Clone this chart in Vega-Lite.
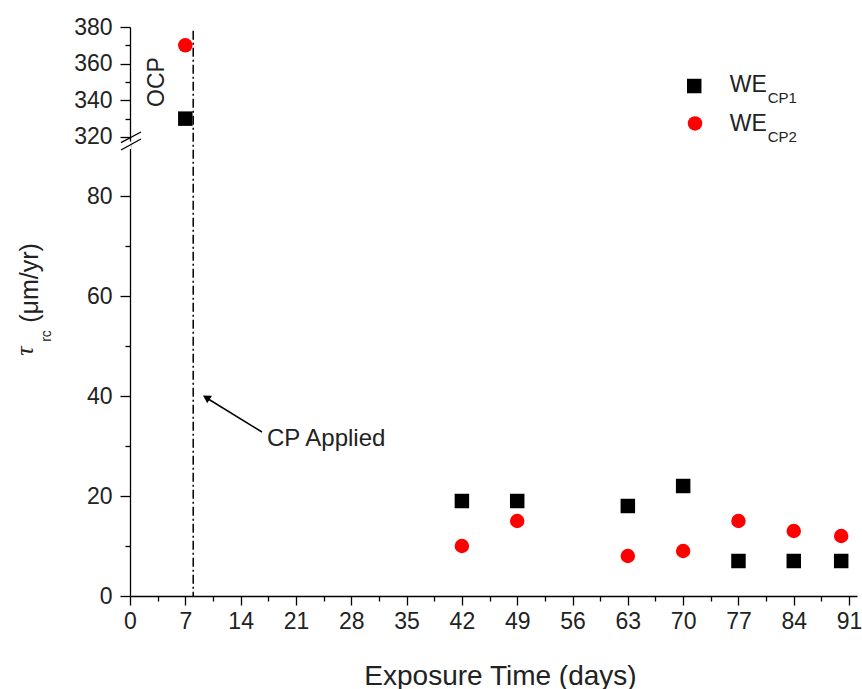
{
  "$schema": "https://vega.github.io/schema/vega-lite/v6.json",
  "autosize": "none",
  "padding": {"left": 130, "top": 27, "right": 5, "bottom": 93},
  "width": 727,
  "height": 569,
  "background": "white",
  "config": {
    "view": {"stroke": null},
    "font": "Liberation Sans",
    "axis": {"grid": false, "domainColor": "#000", "tickColor": "#000", "labelColor": "#222", "titleColor": "#222", "labelFont": "Liberation Sans", "titleFont": "Liberation Sans", "titleFontWeight": "normal", "domainWidth": 1.3, "tickWidth": 1.3}
  },
  "datasets": {
    "pts": [
      {"day": 7, "tau": 330, "series": "WE_CP1"},
      {"day": 42, "tau": 19, "series": "WE_CP1"},
      {"day": 49, "tau": 19, "series": "WE_CP1"},
      {"day": 63, "tau": 18, "series": "WE_CP1"},
      {"day": 70, "tau": 22, "series": "WE_CP1"},
      {"day": 77, "tau": 7, "series": "WE_CP1"},
      {"day": 84, "tau": 7, "series": "WE_CP1"},
      {"day": 90, "tau": 7, "series": "WE_CP1"},
      {"day": 7, "tau": 370, "series": "WE_CP2"},
      {"day": 42, "tau": 10, "series": "WE_CP2"},
      {"day": 49, "tau": 15, "series": "WE_CP2"},
      {"day": 63, "tau": 8, "series": "WE_CP2"},
      {"day": 70, "tau": 9, "series": "WE_CP2"},
      {"day": 77, "tau": 15, "series": "WE_CP2"},
      {"day": 84, "tau": 13, "series": "WE_CP2"},
      {"day": 90, "tau": 12, "series": "WE_CP2"}
    ],
    "one": [{}]
  },
  "layer": [
    {
      "data": {"name": "one"},
      "mark": {"type": "rule", "strokeDash": [9, 3, 2, 3], "strokeWidth": 1.5, "color": "#000"},
      "encoding": {"x": {"datum": 8}, "y": {"datum": 378}, "y2": {"datum": 0}}
    },
    {
      "data": {"name": "pts"},
      "mark": {"type": "point", "filled": true, "opacity": 1, "strokeWidth": 0},
      "encoding": {
        "x": {"field": "day", "type": "quantitative",
          "scale": {"domain": [0, 92], "nice": false, "zero": false},
          "axis": {"title": "Exposure Time (days)", "titleFontSize": 28, "titleX": 370, "titleY": 88, "titleBaseline": "alphabetic",
            "tickCount": 200,
            "values": [0,3.5,7,10.5,14,17.5,21,24.5,28,31.5,35,38.5,42,45.5,49,52.5,56,59.5,63,66.5,70,73.5,77,80.5,84,87.5,91],
            "labelExpr": "datum.value % 7 === 0 ? format(datum.value, 'd') : ''",
            "labelFontSize": 23,
            "tickSize": {"condition": {"test": "datum.value % 7 === 0", "value": 9}, "value": 5},
            "labelPadding": 5, "labelFlush": false, "labelOverlap": false}},
        "y": {"field": "tau", "type": "quantitative",
          "scale": {"domain": [0, 90, 316, 380], "range": [569, 119, 117.3, 0], "nice": false, "zero": false},
          "axis": {"title": null, "tickCount": 200,
            "values": [0,10,20,30,40,50,60,70,80,320,330,340,350,360,370,380],
            "labelExpr": "datum.value % 20 === 0 ? format(datum.value, 'd') : ''",
            "labelFontSize": 23,
            "tickSize": {"condition": {"test": "datum.value % 20 === 0", "value": 10}, "value": 5},
            "labelPadding": 8, "labelOverlap": false}},
        "shape": {"field": "series", "type": "nominal", "scale": {"domain": ["WE_CP1", "WE_CP2"], "range": ["square", "circle"]}, "legend": null},
        "color": {"field": "series", "type": "nominal", "scale": {"domain": ["WE_CP1", "WE_CP2"], "range": ["#000000", "#ff0000"]}, "legend": null},
        "size": {"field": "series", "type": "nominal", "scale": {"domain": ["WE_CP1", "WE_CP2"], "range": [210, 210]}, "legend": null}
      }
    },
    {
      "data": {"name": "one"},
      "mark": {"type": "rule", "strokeWidth": 2, "color": "#fff"},
      "encoding": {"x": {"datum": 0}, "y": {"datum": 317.5}, "y2": {"datum": 89.4}}
    },
    {
      "data": {"name": "one"},
      "mark": {"type": "rule", "strokeWidth": 1.3, "color": "#000"},
      "encoding": {"x": {"datum": -1.14}, "x2": {"datum": 1.39}, "y": {"datum": 316.9}, "y2": {"datum": 322.7}}
    },
    {
      "data": {"name": "one"},
      "mark": {"type": "rule", "strokeWidth": 1.3, "color": "#000"},
      "encoding": {"x": {"datum": -1.14}, "x2": {"datum": 1.39}, "y": {"datum": 89.2}, "y2": {"datum": 318.9}}
    },
    {
      "data": {"name": "one"},
      "mark": {"type": "rule", "strokeWidth": 1.5, "color": "#000"},
      "encoding": {"x": {"datum": 16.7}, "x2": {"datum": 9.7}, "y": {"datum": 32.8}, "y2": {"datum": 39.6}}
    },
    {
      "data": {"name": "one"},
      "mark": {"type": "point", "shape": "triangle-up", "filled": true, "color": "#000", "opacity": 1, "size": 80, "angle": 302, "strokeWidth": 0},
      "encoding": {"x": {"datum": 9.66}, "y": {"datum": 39.7}}
    },
    {
      "data": {"name": "one"},
      "mark": {"type": "text", "text": "CP Applied", "fontSize": 24, "align": "left", "baseline": "middle", "color": "#222"},
      "encoding": {"x": {"datum": 17.34}, "y": {"datum": 31.4}}
    },
    {
      "data": {"name": "one"},
      "mark": {"type": "text", "text": "OCP", "fontSize": 23, "align": "center", "baseline": "middle", "angle": 270, "color": "#222"},
      "encoding": {"x": {"datum": 3.42}, "y": {"datum": 350}}
    },
    {
      "data": {"name": "one"},
      "mark": {"type": "point", "shape": "square", "filled": true, "color": "#000", "opacity": 1, "size": 210, "strokeWidth": 0},
      "encoding": {"x": {"datum": 71.4}, "y": {"datum": 347.8}}
    },
    {
      "data": {"name": "one"},
      "mark": {"type": "point", "shape": "circle", "filled": true, "color": "#ff0000", "opacity": 1, "size": 210, "strokeWidth": 0},
      "encoding": {"x": {"datum": 71.5}, "y": {"datum": 327.4}}
    },
    {
      "data": {"name": "one"},
      "mark": {"type": "text", "text": "WE", "fontSize": 23, "align": "left", "baseline": "middle", "color": "#222"},
      "encoding": {"x": {"datum": 75.9}, "y": {"datum": 348.1}}
    },
    {
      "data": {"name": "one"},
      "mark": {"type": "text", "text": "WE", "fontSize": 23, "align": "left", "baseline": "middle", "color": "#222"},
      "encoding": {"x": {"datum": 75.9}, "y": {"datum": 327.1}}
    },
    {
      "data": {"name": "one"},
      "mark": {"type": "text", "text": "CP1", "fontSize": 15, "align": "left", "baseline": "middle", "color": "#222"},
      "encoding": {"x": {"datum": 80.7}, "y": {"datum": 341.3}}
    },
    {
      "data": {"name": "one"},
      "mark": {"type": "text", "text": "CP2", "fontSize": 15, "align": "left", "baseline": "middle", "color": "#222"},
      "encoding": {"x": {"datum": 80.7}, "y": {"datum": 320}}
    },
    {
      "data": {"name": "one"},
      "mark": {"type": "text", "text": "τ", "fontSize": 26, "font": "Liberation Serif", "fontStyle": "italic", "align": "center", "baseline": "middle", "angle": 270, "color": "#222"},
      "encoding": {"x": {"datum": -13.3}, "y": {"datum": 49}}
    },
    {
      "data": {"name": "one"},
      "mark": {"type": "text", "text": "rc", "fontSize": 14, "align": "center", "baseline": "middle", "angle": 270, "color": "#222"},
      "encoding": {"x": {"datum": -10.5}, "y": {"datum": 52}}
    },
    {
      "data": {"name": "one"},
      "mark": {"type": "text", "text": "(μm/yr)", "fontSize": 25, "align": "center", "baseline": "middle", "angle": 270, "color": "#222"},
      "encoding": {"x": {"datum": -12.65}, "y": {"datum": 62.6}}
    }
  ]
}
